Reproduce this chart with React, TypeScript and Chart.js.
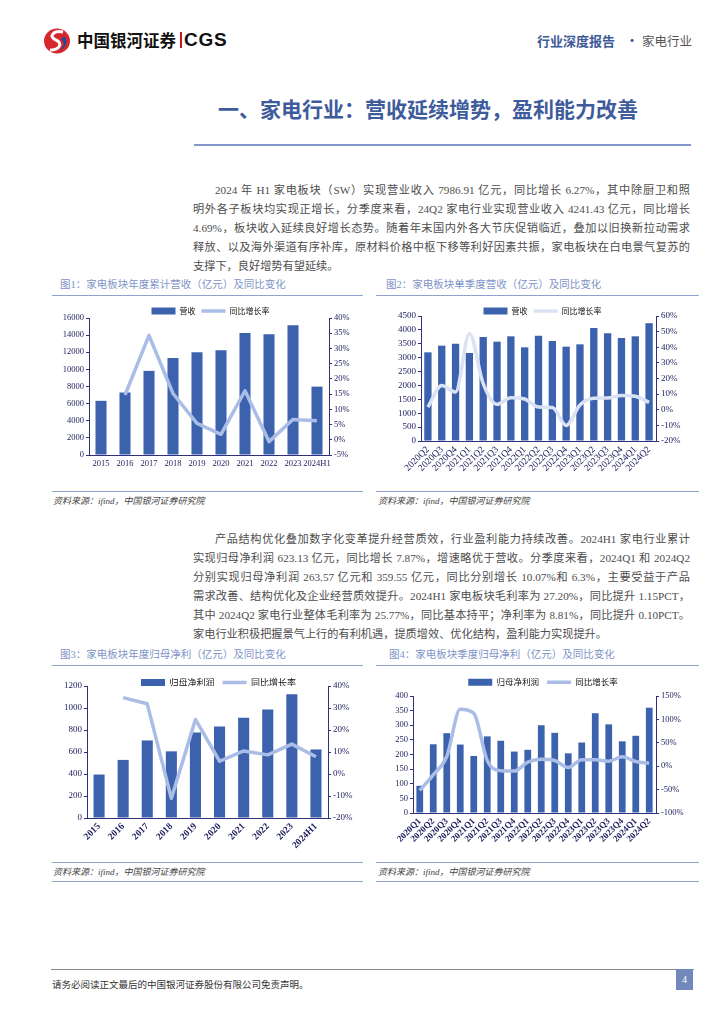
import React, { useEffect, useRef } from "react";
import { Chart, registerables } from "chart.js";

Chart.register(...registerables);

// ---------- data ----------
const annualLabels = ["2015", "2016", "2017", "2018", "2019", "2020", "2021", "2022", "2023", "2024H1"];
const annualRevenue = [6330, 7300, 9825, 11340, 12000, 12233, 14252, 14097, 15146, 7987];
const annualRevenueYoY = [null, 14.7, 34.3, 15.2, 5.4, 1.8, 16.1, -0.6, 6.7, 6.27];

const quarterLabelsA = [
  "2020Q2", "2020Q3", "2020Q4", "2021Q1", "2021Q2", "2021Q3", "2021Q4", "2022Q1", "2022Q2",
  "2022Q3", "2022Q4", "2023Q1", "2023Q2", "2023Q3", "2023Q4", "2024Q1", "2024Q2",
];
const quarterRevenue = [3192, 3432, 3504, 3168, 3744, 3576, 3768, 3372, 3792, 3600, 3396, 3480, 4068, 3876, 3708, 3768, 4241];
const quarterRevenueYoY = [1.7, 15.6, 11.3, 48.7, 16.7, 3.5, 7.7, 6.9, 1.7, 1.5, -10.0, 3.0, 7.3, 7.5, 9.2, 8.6, 4.69];

const annualProfit = [395, 528, 705, 606, 778, 832, 911, 986, 1125, 623];
const annualProfitYoY = [null, 34.7, 31.9, -11.1, 24.8, 5.8, 10.5, 8.7, 13.6, 7.87];

const quarterLabelsB = [
  "2020Q1", "2020Q2", "2020Q3", "2020Q4", "2021Q1", "2021Q2", "2021Q3", "2021Q4", "2022Q1",
  "2022Q2", "2022Q3", "2022Q4", "2023Q1", "2023Q2", "2023Q3", "2023Q4", "2024Q1", "2024Q2",
];
const quarterProfit = [93, 235, 273, 234, 195, 262, 247, 210, 216, 300, 274, 204, 241, 341, 303, 245, 264, 360];
const quarterProfitYoY = [-51.8, -18.5, 20.7, 121.6, 113.0, 12.2, -9.8, -10.5, 8.7, 15.0, 12.2, -2.7, 13.6, 13.6, 10.8, 20.0, 10.07, 6.3];

// ---------- styles ----------
const BAR = "#3c62ad";
const LINE = "#a9bde6";
const LINE_PALE = "#d9e3f3";
const AXIS = "#30307e";
const TICK = "#1c1c5c";
const SERIF = "'Liberation Serif', 'Noto Sans CJK SC', serif";
const CJK = "'Noto Sans CJK SC', sans-serif";
const BODY = "'Liberation Serif', 'Noto Sans CJK SC', serif";

interface Spec {
  labels: string[];
  bars: number[];
  line: (number | null)[];
  barName: string;
  lineName: string;
  lineColor: string;
  lineWidth: number;
  smooth: boolean;
  yMax: number;
  yStep: number;
  rMin: number;
  rMax: number;
  rStep: number;
  left: number;
  top: number;
  width: number;
  height: number;
  plotL: number;
  plotR: number;
  plotT: number;
  plotB: number;
  legendFont: number;
  legendPad: number;
  tickFont: number;
  xFont: number;
  xRot: number;
  xBold: boolean;
  xPad: number;
  barPct: number;
}

function ComboChart({ s }: { s: Spec }) {
  const ref = useRef<HTMLCanvasElement>(null);
  useEffect(() => {
    const leftW = s.plotL - s.left;
    const rightW = s.left + s.width - s.plotR;
    const legendH = s.plotT - s.top;
    const bottomH = s.top + s.height - s.plotB;
    const tickFont = { size: s.tickFont, family: SERIF };
    const chart = new Chart(ref.current as HTMLCanvasElement, {
      type: "bar",
      data: {
        labels: s.labels,
        datasets: [
          {
            type: "bar",
            label: s.barName,
            data: s.bars,
            backgroundColor: BAR,
            borderWidth: 0,
            barPercentage: s.barPct,
            categoryPercentage: 1,
            yAxisID: "y",
            order: 2,
            pointStyle: "rect",
          } as any,
          {
            type: "line",
            label: s.lineName,
            data: s.line,
            borderColor: s.lineColor,
            backgroundColor: s.lineColor,
            borderWidth: s.lineWidth,
            pointRadius: 0,
            tension: s.smooth ? 0.4 : 0,
            cubicInterpolationMode: s.smooth ? "monotone" : "default",
            borderJoinStyle: "round",
            yAxisID: "y1",
            order: 1,
            pointStyle: "line",
          } as any,
        ],
      },
      options: {
        responsive: false,
        maintainAspectRatio: false,
        animation: false,
        layout: { padding: 0 },
        plugins: {
          tooltip: { enabled: false },
          legend: {
            position: "top",
            maxHeight: legendH,
            labels: {
              usePointStyle: true,
              pointStyleWidth: 24,
              boxHeight: 7,
              padding: s.legendPad,
              color: "#111",
              font: { size: s.legendFont, family: CJK },
              sort: (a: any, b: any) => a.datasetIndex - b.datasetIndex,
            },
          } as any,
        },
        scales: {
          x: {
            grid: { display: false, drawTicks: false },
            border: { display: true, color: AXIS, width: 1 },
            ticks: {
              color: TICK,
              autoSkip: false,
              maxRotation: s.xRot,
              minRotation: s.xRot,
              padding: s.xPad,
              font: { size: s.xFont, family: SERIF, weight: s.xBold ? "bold" : "normal" },
            },
            afterFit: (sc: any) => {
              sc.height = bottomH;
            },
          } as any,
          y: {
            position: "left",
            min: 0,
            max: s.yMax,
            grid: { display: true, drawOnChartArea: false, tickLength: 3, color: AXIS },
            border: { display: true, color: AXIS, width: 1 },
            ticks: {
              stepSize: s.yStep,
              color: TICK,
              font: tickFont,
              padding: 2,
              callback: (v: any) => String(v),
            },
            afterFit: (sc: any) => {
              sc.width = leftW;
            },
          } as any,
          y1: {
            position: "right",
            min: s.rMin,
            max: s.rMax,
            grid: { display: true, drawOnChartArea: false, tickLength: 3, color: AXIS },
            border: { display: true, color: AXIS, width: 1 },
            ticks: {
              stepSize: s.rStep,
              color: TICK,
              font: tickFont,
              padding: 2,
              callback: (v: any) => `${v}%`,
            },
            afterFit: (sc: any) => {
              sc.width = rightW;
            },
          } as any,
        },
      },
    });
    return () => chart.destroy();
  }, [s]);
  return (
    <canvas
      ref={ref}
      width={s.width}
      height={s.height}
      style={{ position: "absolute", left: s.left, top: s.top, width: s.width, height: s.height }}
    />
  );
}

const chart1: Spec = {
  labels: annualLabels, bars: annualRevenue, line: annualRevenueYoY,
  barName: "营收", lineName: "同比增长率", lineColor: LINE, lineWidth: 3.5, smooth: false,
  yMax: 16000, yStep: 2000, rMin: -5, rMax: 40, rStep: 5,
  left: 40, top: 301, width: 341, height: 181,
  plotL: 89, plotR: 329, plotT: 318, plotB: 455,
  legendFont: 8, legendPad: 6, tickFont: 8.5, xFont: 8.5, xRot: 0, xBold: false, xPad: 4, barPct: 0.46,
};

const chart2: Spec = {
  labels: quarterLabelsA, bars: quarterRevenue, line: quarterRevenueYoY,
  barName: "营收", lineName: "同比增长率", lineColor: LINE_PALE, lineWidth: 3.5, smooth: true,
  yMax: 4500, yStep: 500, rMin: -20, rMax: 60, rStep: 10,
  left: 372, top: 301, width: 341, height: 185,
  plotL: 421, plotR: 656, plotT: 316, plotB: 441,
  legendFont: 8, legendPad: 6, tickFont: 9, xFont: 9.5, xRot: 45, xBold: false, xPad: 3, barPct: 0.53,
};

const chart3: Spec = {
  labels: annualLabels, bars: annualProfit, line: annualProfitYoY,
  barName: "归母净利润", lineName: "同比增长率", lineColor: LINE, lineWidth: 3.5, smooth: false,
  yMax: 1200, yStep: 200, rMin: -20, rMax: 40, rStep: 10,
  left: 40, top: 670, width: 357, height: 188,
  plotL: 87, plotR: 328, plotT: 686, plotB: 818,
  legendFont: 9, legendPad: 8, tickFont: 9, xFont: 9.5, xRot: 45, xBold: true, xPad: 3, barPct: 0.46,
};

const chart4: Spec = {
  labels: quarterLabelsB, bars: quarterProfit, line: quarterProfitYoY,
  barName: "归母净利润", lineName: "同比增长率", lineColor: LINE, lineWidth: 3.5, smooth: true,
  yMax: 400, yStep: 50, rMin: -100, rMax: 150, rStep: 50,
  left: 372, top: 670, width: 342, height: 188,
  plotL: 413, plotR: 656, plotT: 696, plotB: 813,
  legendFont: 8.5, legendPad: 8, tickFont: 8.5, xFont: 9, xRot: 45, xBold: true, xPad: 3, barPct: 0.5,
};

// ---------- text ----------
const para1 = [
  "2024 年 H1 家电板块（SW）实现营业收入 7986.91 亿元，同比增长 6.27%，其中除厨卫和照",
  "明外各子板块均实现正增长，分季度来看，24Q2 家电行业实现营业收入 4241.43 亿元，同比增长",
  "4.69%，板块收入延续良好增长态势。随着年末国内外各大节庆促销临近，叠加以旧换新拉动需求",
  "释放、以及海外渠道有序补库，原材料价格中枢下移等利好因素共振，家电板块在白电景气复苏的",
  "支撑下，良好增势有望延续。",
];
const para2 = [
  "产品结构优化叠加数字化变革提升经营质效，行业盈利能力持续改善。2024H1 家电行业累计",
  "实现归母净利润 623.13 亿元，同比增长 7.87%，增速略优于营收。分季度来看，2024Q1 和 2024Q2",
  "分别实现归母净利润 263.57 亿元和 359.55 亿元，同比分别增长 10.07%和 6.3%，主要受益于产品",
  "需求改善、结构优化及企业经营质效提升。2024H1 家电板块毛利率为 27.20%，同比提升 1.15PCT，",
  "其中 2024Q2 家电行业整体毛利率为 25.77%，同比基本持平；净利率为 8.81%，同比提升 0.10PCT。",
  "家电行业积极把握景气上行的有利机遇，提质增效、优化结构，盈利能力实现提升。",
];

function Para({ lines, top, step }: { lines: string[]; top: number; step: number }) {
  return (
    <>
      {lines.map((t, i) => {
        const first = i === 0;
        const last = i === lines.length - 1;
        const left = first ? 215 : 193;
        return (
          <div
            key={i}
            style={{
              position: "absolute",
              left,
              top: top + i * step - 8,
              width: last ? 600 : 690 - left,
              height: 16,
              lineHeight: "16px",
              fontSize: 11.2,
              fontFamily: BODY,
              color: "#4d4d4d",
              textAlign: "justify",
              textAlignLast: last ? "left" : "justify",
            } as any}
          >
            {t}
          </div>
        );
      })}
    </>
  );
}

function Rule({ x1, x2, y, color = "#8ea2cd", h = 1 }: { x1: number; x2: number; y: number; color?: string; h?: number }) {
  return <div style={{ position: "absolute", left: x1, top: y - h / 2, width: x2 - x1, height: h, background: color }} />;
}

function Txt({ x, y, children, style }: { x: number; y: number; children: any; style?: any }) {
  return (
    <div style={{ position: "absolute", left: x, top: y - 10, height: 20, lineHeight: "20px", whiteSpace: "nowrap", ...style }}>
      {children}
    </div>
  );
}

const figTitle = { fontSize: 10.5, fontFamily: BODY, color: "#7d93c6" };
const source = { fontSize: 9, fontFamily: BODY, color: "#444", fontStyle: "italic" };

export default function App() {
  return (
    <div
      style={{
        position: "absolute",
        left: 0,
        top: 0,
        width: 724,
        height: 1024,
        background: "#fff",
        overflow: "hidden",
      }}
    >
      {/* header */}
      <svg style={{ position: "absolute", left: 43, top: 28 }} width={28} height={26} viewBox="0 0 28 26">
        <ellipse cx={14} cy={13} rx={13} ry={12.5} fill="#d8262c" />
        <path d="M20 4 C 10 2, 5 9, 13 12 C 20 15, 17 22, 7 22" stroke="#fff" strokeWidth={3} fill="none" />
        <path d="M21 8 C 26 13, 23 20, 16 23 C 22 18, 22 13, 18 12 Z" fill="#1f4a9c" />
      </svg>
      <Txt x={77} y={40} style={{ fontFamily: CJK, fontWeight: 700, fontSize: 16.5, color: "#111" }}>
        中国银河证券
      </Txt>
      <div style={{ position: "absolute", left: 180, top: 32, width: 1.5, height: 16, background: "#c8161d" }} />
      <Txt x={184} y={40} style={{ fontFamily: "'Liberation Sans', Arial, sans-serif", fontWeight: 700, fontSize: 19, letterSpacing: 0.8, color: "#111" }}>
        CGS
      </Txt>
      <Txt x={537} y={41} style={{ fontFamily: CJK, fontWeight: 700, fontSize: 13, color: "#3e5a98" }}>
        行业深度报告
      </Txt>
      <Txt x={626} y={41} style={{ fontFamily: CJK, fontWeight: 700, fontSize: 12, color: "#3e5a98" }}>
        ·
      </Txt>
      <Txt x={642} y={41} style={{ fontFamily: CJK, fontSize: 12.5, color: "#555" }}>
        家电行业
      </Txt>

      {/* section title */}
      <Txt x={218} y={108} style={{ fontFamily: CJK, fontWeight: 700, fontSize: 21, color: "#3e5c9c" }}>
        一、家电行业：营收延续增势，盈利能力改善
      </Txt>
      <Rule x1={194} x2={691} y={145} h={1.5} color="#8198c8" />

      <Para lines={para1} top={190} step={19} />

      {/* figure titles row 1 */}
      <Txt x={60} y={285} style={figTitle}>图1：家电板块年度累计营收（亿元）及同比变化</Txt>
      <Txt x={386} y={285} style={figTitle}>图2：家电板块单季度营收（亿元）及同比变化</Txt>
      <Rule x1={52} x2={363} y={295.5} />
      <Rule x1={376} x2={699} y={295.5} />

      <ComboChart s={chart1} />
      <ComboChart s={chart2} />

      <Rule x1={52} x2={363} y={491} />
      <Rule x1={376} x2={699} y={491} />
      <Txt x={53} y={501} style={source}>资料来源：ifind，中国银河证券研究院</Txt>
      <Txt x={378} y={501} style={source}>资料来源：ifind，中国银河证券研究院</Txt>

      <Para lines={para2} top={539} step={19} />

      {/* figure titles row 2 */}
      <Txt x={60} y={655} style={figTitle}>图3：家电板块年度归母净利（亿元）及同比变化</Txt>
      <Txt x={389} y={655} style={figTitle}>图4：家电板块季度归母净利（亿元）及同比变化</Txt>
      <Rule x1={52} x2={363} y={665} />
      <Rule x1={376} x2={699} y={665} />

      <ComboChart s={chart3} />
      <ComboChart s={chart4} />

      <Rule x1={52} x2={363} y={862} />
      <Rule x1={376} x2={699} y={862} />
      <Txt x={53} y={872} style={source}>资料来源：ifind，中国银河证券研究院</Txt>
      <Txt x={378} y={872} style={source}>资料来源：ifind，中国银河证券研究院</Txt>
      <Rule x1={52} x2={363} y={881} />
      <Rule x1={376} x2={699} y={881} />

      {/* footer */}
      <Rule x1={51} x2={694} y={969} color="#888" />
      <Txt x={52} y={985} style={{ fontFamily: BODY, fontSize: 9.5, color: "#333" }}>
        请务必阅读正文最后的中国银河证券股份有限公司免责声明。
      </Txt>
      <div
        style={{
          position: "absolute",
          left: 676,
          top: 969,
          width: 17,
          height: 21,
          background: "#7088bb",
          color: "#fff",
          fontFamily: SERIF,
          fontSize: 10,
          lineHeight: "21px",
          textAlign: "center",
        }}
      >
        4
      </div>
    </div>
  );
}
